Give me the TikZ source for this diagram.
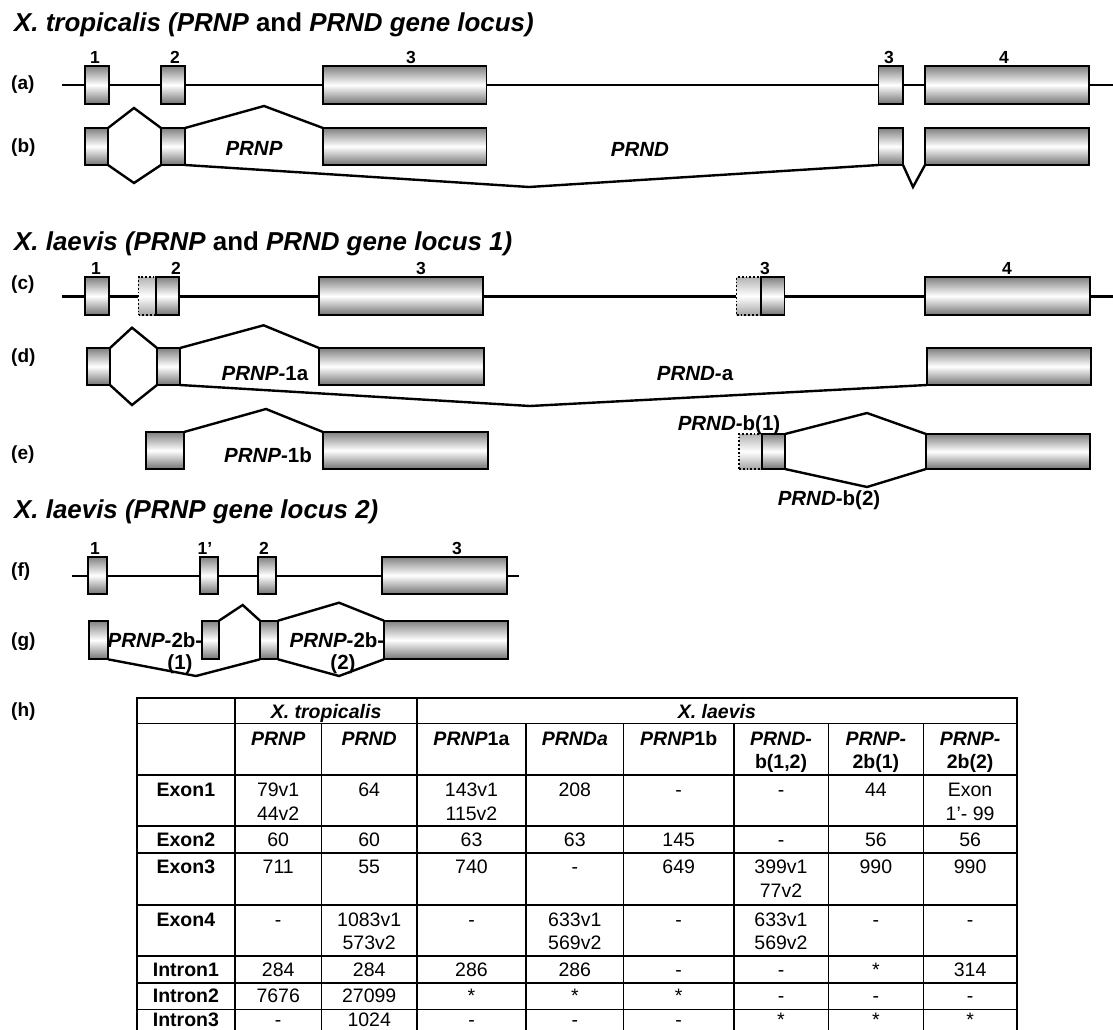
\documentclass[tikz,border=0pt]{standalone}
\usepackage{fontspec}
\setmainfont{Liberation Sans}
\newcommand{\exonbox}[6][exon]{\node[#1, minimum width={#4-#3}, minimum height={#6-#5}] (#2) at ({(#3+#4)/2},{(#5+#6)/2}) {};}
\newcommand{\tabcellnode}[4]{\node[tabcell] (#1) at (#2,{#3-16.45}) {\strut #4};}
\newcommand{\geneit}[1]{\textbf{\textit{#1}}}
\newcommand{\genebf}[1]{\textbf{#1}}
\begin{document}
\begin{tikzpicture}[x=1pt,y=-1pt,
  exon/.style={draw=black, line width=1.8pt, top color=black!50, bottom color=black!55, middle color=white, inner sep=0pt, outer sep=0pt},
  dexon/.style={exon, dotted, line width=1.5pt, top color=black!30, bottom color=black!35, middle color=white},
  backbone/.style={line width=2.6pt},
  splice/.style={line width=2.4pt},
  tline/.style={line width=1.6pt},
  title/.style={font=\fontsize{25.9}{30}\selectfont\bfseries, inner sep=0pt, anchor=base west},
  rowlab/.style={font=\fontsize{19}{22}\selectfont\bfseries, inner sep=0pt, anchor=base west},
  num/.style={font=\fontsize{17.5}{20}\selectfont\bfseries, inner sep=0pt, anchor=base},
  glabel/.style={font=\fontsize{20.5}{22}\selectfont\bfseries, inner sep=0pt, anchor=base},
  tabcell/.style={font=\fontsize{19.5}{23.5}\selectfont, inner sep=0pt, anchor=north, align=center}]
\useasboundingbox (0,0) rectangle (1113,1030);
\clip (0,0) rectangle (1113,1030);
\fill[white] (0,0) rectangle (1113,1030);

% ---------- titles ----------
\node[title] (T1) at (14,31.7) {\textit{X. tropicalis (PRNP} and \textit{PRND gene locus)}};
\node[title] (T2) at (14,250) {\textit{X. laevis (PRNP} and \textit{PRND gene locus 1)}};
\node[title] (T3) at (14,518) {\textit{X. laevis (PRNP gene locus 2)}};

% ---------- row labels ----------
\node[rowlab] (La) at (11,89.7) {(a)};
\node[rowlab] (Lb) at (11,152.7) {(b)};
\node[rowlab] (Lc) at (11,289.7) {(c)};
\node[rowlab] (Ld) at (11,362.7) {(d)};
\node[rowlab] (Le) at (11,459.7) {(e)};
\node[rowlab] (Lf) at (11,576.4) {(f)};
\node[rowlab] (Lg) at (11,646.4) {(g)};
\node[rowlab] (Lh) at (11,716.4) {(h)};

% ---------- (a) ----------
\coordinate (aL) at (62,85);
\coordinate (aR) at (1113,85);
\draw[backbone] (aL) -- (aR);
\exonbox{a1}{85}{109}{66}{104}
\exonbox{a2}{161}{185}{66}{104}
\exonbox{a3}{323}{486.5}{66}{104}
\exonbox{a3r}{878.5}{903}{66}{104}
\exonbox{a4}{925}{1089}{66}{104}
\node[num] (na1) at (95,63.5) {1};
\node[num] (na2) at (175,63.5) {2};
\node[num] (na3) at (411,63.5) {3};
\node[num] (na3r) at (889,63.5) {3};
\node[num] (na4) at (1004,63.5) {4};

% ---------- (b) ----------
\exonbox{b1}{85}{108}{128}{165}
\exonbox{b2}{161}{185}{128}{165}
\exonbox{b3}{323}{486.5}{128}{165}
\exonbox{b4}{878.5}{903}{128}{165}
\exonbox{b5}{925}{1089}{128}{165}
\draw[splice] (b1.north east) -- (134,108) -- (b2.north west);
\draw[splice] (b1.south east) -- (134,183) -- (b2.south west);
\draw[splice] (b2.north east) -- (264,106) -- (b3.north west);
\draw[splice] (b2.south east) -- (529,187) -- (b4.south west);
\draw[splice] (b4.south east) -- (913,187) -- (b5.south west);
\node[glabel] (gPRNP) at (254,155) {\textit{PRNP}};
\node[glabel] (gPRND) at (640,156) {\textit{PRND}};

% ---------- (c) ----------
\coordinate (cL) at (62,296.7);
\coordinate (cR) at (1113,296.7);
\draw[backbone] (cL) -- (cR);
\exonbox{c1}{85}{109}{277}{315}
\exonbox[dexon]{c2d}{138.6}{156}{277}{315}
\exonbox{c2}{156}{179}{277}{315}
\exonbox{c3}{319}{483}{277}{315}
\exonbox[dexon]{c3d}{736.7}{761}{277}{315}
\exonbox{c3s}{761}{784.5}{277}{315}
\exonbox{c4}{925}{1090}{277}{315}
\node[num] (nc1) at (96,274.3) {1};
\node[num] (nc2) at (176,274.3) {2};
\node[num] (nc3) at (421,274.3) {3};
\node[num] (nc3r) at (765,274.3) {3};
\node[num] (nc4) at (1007,274.3) {4};

% ---------- (d) ----------
\exonbox{d1}{87}{110}{348}{385}
\exonbox{d2}{157}{180}{348}{385}
\exonbox{d3}{319}{484}{348}{385}
\exonbox{d4}{927}{1091}{348}{385}
\draw[splice] (d1.north east) -- (132,327.7) -- (d2.north west);
\draw[splice] (d1.south east) -- (132,405) -- (d2.south west);
\draw[splice] (d2.north east) -- (263.6,325.3) -- (d3.north west);
\draw[splice] (d2.south east) -- (530,406) -- (d4.south west);
\node[glabel] (gP1a) at (265,380) {\textit{PRNP-}1a};
\node[glabel] (gDa) at (695,380) {\textit{PRND-}a};

% ---------- (e) ----------
\exonbox{e2}{146}{184}{432}{469}
\exonbox{e3}{323}{488}{432}{469}
\draw[splice] (e2.north east) -- (266,409) -- (e3.north west);
\node[glabel] (gP1b) at (268,462) {\textit{PRNP-}1b};
\exonbox[dexon]{eb1d}{739}{762}{434}{469}
\exonbox{eb1}{762}{785}{434}{469}
\exonbox{eb2}{926}{1090}{434}{469}
\draw[splice] (eb1.north east) -- (867,413) -- (eb2.north west);
\draw[splice] (eb1.south east) -- (867,487) -- (eb2.south west);
\node[glabel] (gDb1) at (729,430) {\textit{PRND-}b(1)};
\node[glabel] (gDb2) at (829,505) {\textit{PRND-}b(2)};

% ---------- (f) ----------
\coordinate (fL) at (72,576);
\coordinate (fR) at (519,576);
\draw[backbone] (fL) -- (fR);
\exonbox{f1}{88}{107}{556.7}{594}
\exonbox{f1p}{200}{218}{556.7}{594}
\exonbox{f2}{258}{276}{556.7}{594}
\exonbox{f3}{382}{507}{556.7}{594}
\node[num] (nf1) at (95,554) {1};
\node[num] (nf1p) at (205,554) {1’};
\node[num] (nf2) at (264,554) {2};
\node[num] (nf3) at (457,554) {3};

% ---------- (g) ----------
\exonbox{g1}{89}{108}{620.7}{659.3}
\exonbox{g1p}{202}{219}{620.7}{659.3}
\exonbox{g2}{260}{278}{620.7}{659.3}
\exonbox{g3}{384}{508}{620.7}{659.3}
\draw[splice] (g1p.north east) -- (242.7,605) -- (g2.north west);
\draw[splice] (g2.north east) -- (339,602.7) -- (g3.north west);
\draw[splice] (g1.south east) -- (196,676) -- (g2.south west);
\draw[splice] (g2.south east) -- (339,676) -- (g3.south west);
\node[glabel, anchor=north, align=center] (gP2b1) at (155,631.6) {\strut\textit{PRNP-}2b-\\\hspace*{50pt}(1)};
\node[glabel, anchor=north, align=center] (gP2b2) at (337,631.6) {\strut\textit{PRNP-}2b-\\\hspace*{12pt}(2)};

% ---------- (h) table ----------
\draw[tline] (136.8,697.7) rectangle (1016.8,1045);
\foreach \y in {723.3,775,825.7,852.7,905,956,982.7,1009.3}
  \draw[tline] (136.8,\y) -- (1016.8,\y);
\foreach \x in {235,417}
  \draw[tline] (\x,697.7) -- (\x,1045);
\foreach \x in {321.4,526,623.6,733.8,828.3,923.4}
  \draw[tline] (\x,723.3) -- (\x,1045);

% header rows
\tabcellnode{h1a}{326.1}{718.3}{\geneit{X. tropicalis}}
\tabcellnode{h1b}{716.9}{718.3}{\geneit{X. laevis}}
\tabcellnode{h2c1}{278.2}{745}{\geneit{PRNP}}
\tabcellnode{h2c2}{369.2}{745}{\geneit{PRND}}
\tabcellnode{h2c3}{471.5}{745}{\geneit{PRNP}\genebf{1a}}
\tabcellnode{h2c4}{574.8}{745}{\geneit{PRNDa}}
\tabcellnode{h2c5}{678.7}{745}{\geneit{PRNP}\genebf{1b}}
\tabcellnode{h2c6}{781}{745}{\geneit{PRND-}\\\genebf{b(1,2)}}
\tabcellnode{h2c7}{875.9}{745}{\geneit{PRNP-}\\\genebf{2b(1)}}
\tabcellnode{h2c8}{970.1}{745}{\geneit{PRNP-}\\\genebf{2b(2)}}

% Exon1
\tabcellnode{e1c0}{185.9}{796.5}{\genebf{Exon1}}
\tabcellnode{e1c1}{278.2}{796.5}{79v1\\44v2}
\tabcellnode{e1c2}{369.2}{796.5}{64}
\tabcellnode{e1c3}{471.5}{796.5}{143v1\\115v2}
\tabcellnode{e1c4}{574.8}{796.5}{208}
\tabcellnode{e1c5}{678.7}{796.5}{-}
\tabcellnode{e1c6}{781}{796.5}{-}
\tabcellnode{e1c7}{875.9}{796.5}{44}
\tabcellnode{e1c8}{970.1}{796.5}{Exon\\1’- 99}

% Exon2
\tabcellnode{e2c0}{185.9}{846.7}{\genebf{Exon2}}
\tabcellnode{e2c1}{278.2}{846.7}{60}
\tabcellnode{e2c2}{369.2}{846.7}{60}
\tabcellnode{e2c3}{471.5}{846.7}{63}
\tabcellnode{e2c4}{574.8}{846.7}{63}
\tabcellnode{e2c5}{678.7}{846.7}{145}
\tabcellnode{e2c6}{781}{846.7}{-}
\tabcellnode{e2c7}{875.9}{846.7}{56}
\tabcellnode{e2c8}{970.1}{846.7}{56}

% Exon3
\tabcellnode{e3c0}{185.9}{873.3}{\genebf{Exon3}}
\tabcellnode{e3c1}{278.2}{873.3}{711}
\tabcellnode{e3c2}{369.2}{873.3}{55}
\tabcellnode{e3c3}{471.5}{873.3}{740}
\tabcellnode{e3c4}{574.8}{873.3}{-}
\tabcellnode{e3c5}{678.7}{873.3}{649}
\tabcellnode{e3c6}{781}{873.3}{399v1\\77v2}
\tabcellnode{e3c7}{875.9}{873.3}{990}
\tabcellnode{e3c8}{970.1}{873.3}{990}

% Exon4
\tabcellnode{e4c0}{185.9}{926}{\genebf{Exon4}}
\tabcellnode{e4c1}{278.2}{926}{-}
\tabcellnode{e4c2}{369.2}{926}{1083v1\\573v2}
\tabcellnode{e4c3}{471.5}{926}{-}
\tabcellnode{e4c4}{574.8}{926}{633v1\\569v2}
\tabcellnode{e4c5}{678.7}{926}{-}
\tabcellnode{e4c6}{781}{926}{633v1\\569v2}
\tabcellnode{e4c7}{875.9}{926}{-}
\tabcellnode{e4c8}{970.1}{926}{-}

% Intron1
\tabcellnode{i1c0}{185.9}{976.7}{\genebf{Intron1}}
\tabcellnode{i1c1}{278.2}{976.7}{284}
\tabcellnode{i1c2}{369.2}{976.7}{284}
\tabcellnode{i1c3}{471.5}{976.7}{286}
\tabcellnode{i1c4}{574.8}{976.7}{286}
\tabcellnode{i1c5}{678.7}{976.7}{-}
\tabcellnode{i1c6}{781}{976.7}{-}
\tabcellnode{i1c7}{875.9}{976.7}{*}
\tabcellnode{i1c8}{970.1}{976.7}{314}

% Intron2
\tabcellnode{i2c0}{185.9}{1002.7}{\genebf{Intron2}}
\tabcellnode{i2c1}{278.2}{1002.7}{7676}
\tabcellnode{i2c2}{369.2}{1002.7}{27099}
\tabcellnode{i2c3}{471.5}{1002.7}{*}
\tabcellnode{i2c4}{574.8}{1002.7}{*}
\tabcellnode{i2c5}{678.7}{1002.7}{*}
\tabcellnode{i2c6}{781}{1002.7}{-}
\tabcellnode{i2c7}{875.9}{1002.7}{-}
\tabcellnode{i2c8}{970.1}{1002.7}{-}

% Intron3
\tabcellnode{i3c0}{185.9}{1026}{\genebf{Intron3}}
\tabcellnode{i3c1}{278.2}{1026}{-}
\tabcellnode{i3c2}{369.2}{1026}{1024}
\tabcellnode{i3c3}{471.5}{1026}{-}
\tabcellnode{i3c4}{574.8}{1026}{-}
\tabcellnode{i3c5}{678.7}{1026}{-}
\tabcellnode{i3c6}{781}{1026}{*}
\tabcellnode{i3c7}{875.9}{1026}{*}
\tabcellnode{i3c8}{970.1}{1026}{*}
\end{tikzpicture}
\end{document}
